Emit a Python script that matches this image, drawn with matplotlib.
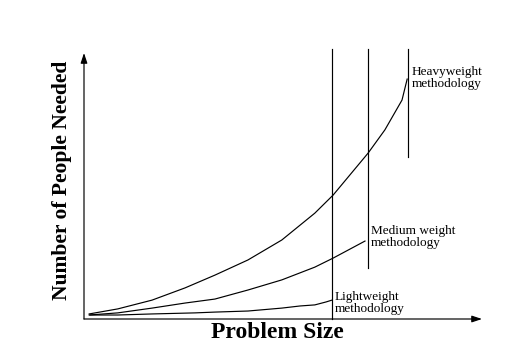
import matplotlib
matplotlib.use("Agg")
import matplotlib.pyplot as plt

# Problem size (0-100 scale) and people needed (0-100 scale)
heavy_x = [1.3, 8.5, 17.1, 25.4, 32.9, 41.2, 49.7, 58.0, 62.6, 71.4, 75.6, 79.9, 81.2]
heavy_y = [1.9, 3.8, 7.1, 11.7, 16.5, 22.2, 29.7, 39.8, 46.6, 62.4, 71.1, 82.3, 90.2]

medium_x = [1.3, 8.5, 17.1, 25.4, 32.9, 41.2, 49.7, 58.0, 62.6, 70.6]
medium_y = [1.5, 2.3, 4.1, 6.0, 7.5, 10.9, 14.7, 19.5, 22.9, 29.3]

light_x = [1.5, 8.5, 17.1, 27.9, 32.9, 41.2, 49.7, 54.3, 58.0, 60.8, 62.3]
light_y = [1.5, 1.5, 1.9, 2.3, 2.6, 3.0, 4.1, 4.9, 5.3, 6.4, 7.1]

# limit lines: x position, bottom, top
limit_x = [62.3, 71.4, 81.4]
limit_bottom = [0.0, 19.2, 60.9]
limit_top = [101.5, 101.5, 101.5]

labels = ["Lightweight\nmethodology", "Medium weight\nmethodology", "Heavyweight\nmethodology"]
label_x = [62.9, 72.1, 82.4]
label_y = [10.6, 35.2, 95.0]

W, H = 519, 359
fig = plt.figure(figsize=(W / 100, H / 100), dpi=100)
fig.patch.set_facecolor("white")
ax = fig.add_axes([84 / W, (H - 319) / H, 398 / W, 266 / H])
ax.set_xlim(0, 100)
ax.set_ylim(0, 100)
for s in ax.spines.values():
    s.set_visible(False)
ax.set_xticks([])
ax.set_yticks([])
ax.patch.set_alpha(0)

lw = 0.85
# axes with arrows
ax.annotate("", xy=(100, 0), xytext=(0, 0),
            arrowprops=dict(arrowstyle="-|>,head_length=0.6,head_width=0.2", color="black", lw=lw,
                            shrinkA=0, shrinkB=0), annotation_clip=False)
ax.annotate("", xy=(0, 100), xytext=(0, 0),
            arrowprops=dict(arrowstyle="-|>,head_length=0.6,head_width=0.2", color="black", lw=lw,
                            shrinkA=0, shrinkB=0), annotation_clip=False)

for xs, ys in [(heavy_x, heavy_y), (medium_x, medium_y), (light_x, light_y)]:
    ax.plot(xs, ys, color="black", lw=lw, clip_on=False)

for x, b, t in zip(limit_x, limit_bottom, limit_top):
    ax.plot([x, x], [b, t], color="black", lw=lw, clip_on=False)

for txt, x, y in zip(labels, label_x, label_y):
    ax.text(x, y, txt, fontsize=9.5, family="Liberation Serif", va="top", ha="left",
            linespacing=1.0)

fig.text(62 / W, 1 - 180 / H, "Number of People Needed", rotation=90, fontsize=15.5,
         fontweight="bold", family="Liberation Serif", ha="center", va="center")
fig.text(277 / W, 1 - 333 / H, "Problem Size", fontsize=17, fontweight="bold",
         family="Liberation Serif", ha="center", va="center")

fig.savefig("out.png", dpi=100, facecolor="white")
